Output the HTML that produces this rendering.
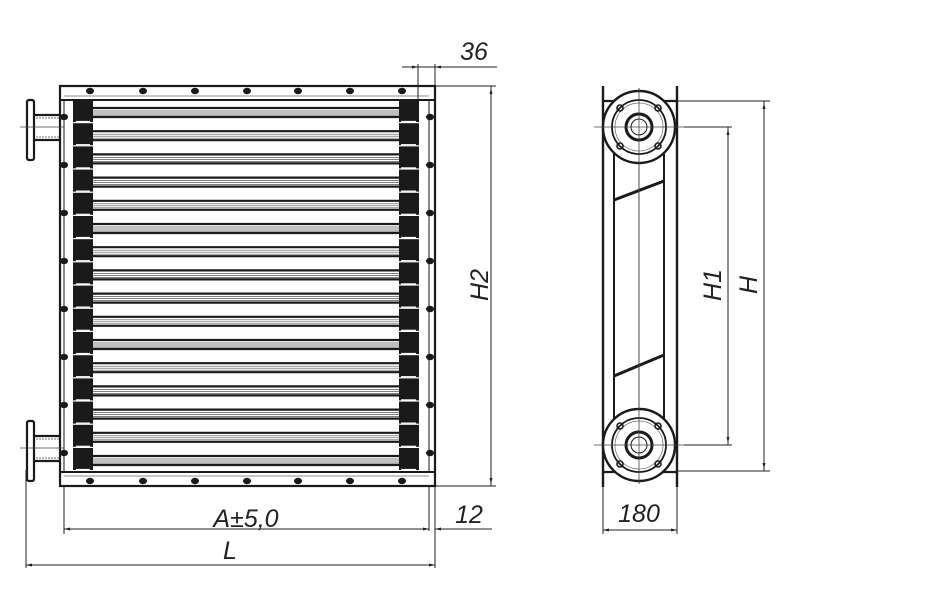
<!DOCTYPE html>
<html><head><meta charset="utf-8"><style>
html,body{margin:0;padding:0;background:#fff;}
svg{display:block}
text{font-family:"Liberation Sans",sans-serif;font-style:italic;fill:#222;}
</style></head><body>
<svg width="940" height="616" viewBox="0 0 940 616" xmlns="http://www.w3.org/2000/svg">
<defs>
<g id="row">
  <rect x="73" y="0" width="20" height="22" fill="#1a1a1a"/>
  <rect x="399" y="0" width="20" height="22" fill="#1a1a1a"/>
  <line x1="93" y1="8" x2="399" y2="8" stroke="#1a1a1a" stroke-width="2.2"/>
  <line x1="93" y1="17" x2="399" y2="17" stroke="#1a1a1a" stroke-width="2.2"/>
  <line x1="93" y1="11" x2="399" y2="11" stroke="#555" stroke-width="0.7"/>
  <line x1="93" y1="13" x2="399" y2="13" stroke="#555" stroke-width="0.7"/>
  <line x1="93" y1="15" x2="399" y2="15" stroke="#555" stroke-width="0.7"/>
  <line x1="76" y1="21.5" x2="90" y2="21.5" stroke="#fff" stroke-width="1.2"/>
  <line x1="401" y1="21.5" x2="416" y2="21.5" stroke="#fff" stroke-width="1.2"/>
</g>
<g id="flange">
  <rect x="27" y="0" width="7" height="60" rx="2" fill="none" stroke="#1a1a1a" stroke-width="2.2"/>
  <line x1="34" y1="15" x2="61" y2="15" stroke="#1a1a1a" stroke-width="2.2"/>
  <line x1="34" y1="40" x2="61" y2="40" stroke="#1a1a1a" stroke-width="2.2"/>
  <line x1="36" y1="18" x2="61" y2="18" stroke="#444" stroke-width="0.8" stroke-dasharray="2,1"/>
  <line x1="36" y1="37" x2="61" y2="37" stroke="#444" stroke-width="0.8" stroke-dasharray="2,1"/>
  <line x1="20" y1="27" x2="64" y2="27" stroke="#444" stroke-width="0.7"/>
</g>
<g id="port">
  <circle cx="0" cy="0" r="36" fill="#fff" stroke="#1a1a1a" stroke-width="2.4"/>
  <circle cx="0" cy="0" r="27" fill="none" stroke="#1a1a1a" stroke-width="1.8"/>
  <circle cx="0" cy="0" r="24" fill="none" stroke="#777" stroke-width="0.8"/>
  <circle cx="0" cy="0" r="13" fill="none" stroke="#1a1a1a" stroke-width="3"/>
  <circle cx="0" cy="0" r="8" fill="none" stroke="#1a1a1a" stroke-width="1"/>
  <circle cx="-19" cy="-19" r="3" fill="none" stroke="#1a1a1a" stroke-width="1.6"/>
  <circle cx="19" cy="-19" r="3" fill="none" stroke="#1a1a1a" stroke-width="1.6"/>
  <circle cx="-19" cy="19" r="3" fill="none" stroke="#1a1a1a" stroke-width="1.6"/>
  <circle cx="19" cy="19" r="3" fill="none" stroke="#1a1a1a" stroke-width="1.6"/>
  <line x1="-45" y1="0" x2="45" y2="0" stroke="#444" stroke-width="0.8"/>
</g>
<g id="dotr"><ellipse cx="0" cy="0" rx="4" ry="3.2" fill="#1a1a1a"/></g>
</defs>

<!-- main frame -->
<g fill="none" stroke="#1a1a1a">
  <rect x="60" y="86" width="375" height="400" stroke-width="2.2"/>
  <line x1="64" y1="100" x2="64" y2="472" stroke-width="1"/>
  <line x1="429" y1="100" x2="429" y2="472" stroke-width="1"/>
  <line x1="60" y1="100" x2="435" y2="100" stroke-width="2"/>
  <line x1="64" y1="96" x2="429" y2="96" stroke-width="0.7" stroke="#666"/>
  <line x1="60" y1="472" x2="435" y2="472" stroke-width="2"/>
  <line x1="64" y1="476" x2="429" y2="476" stroke-width="0.7" stroke="#666"/>
</g>
<!-- rows -->
<use href="#row" y="100"/><use href="#row" y="123.2"/><use href="#row" y="146.4"/><use href="#row" y="169.6"/>
<use href="#row" y="192.8"/><use href="#row" y="216"/><use href="#row" y="239.2"/><use href="#row" y="262.4"/>
<use href="#row" y="285.6"/><use href="#row" y="308.8"/><use href="#row" y="332"/><use href="#row" y="355.2"/>
<use href="#row" y="378.4"/><use href="#row" y="401.6"/><use href="#row" y="424.8"/><use href="#row" y="448"/>
<!-- top/bottom dots -->
<g>
<use href="#dotr" x="90" y="91"/><use href="#dotr" x="143" y="91"/><use href="#dotr" x="195" y="91"/><use href="#dotr" x="247" y="91"/><use href="#dotr" x="298" y="91"/><use href="#dotr" x="350" y="91"/><use href="#dotr" x="402" y="91"/>
<use href="#dotr" x="90" y="481"/><use href="#dotr" x="143" y="481"/><use href="#dotr" x="195" y="481"/><use href="#dotr" x="247" y="481"/><use href="#dotr" x="298" y="481"/><use href="#dotr" x="350" y="481"/><use href="#dotr" x="402" y="481"/>
</g>
<g>
<use href="#dotr" x="64" y="117"/><use href="#dotr" x="64" y="165"/><use href="#dotr" x="64" y="213"/><use href="#dotr" x="64" y="261"/><use href="#dotr" x="64" y="309"/><use href="#dotr" x="64" y="357"/><use href="#dotr" x="64" y="405"/><use href="#dotr" x="64" y="453"/>
<use href="#dotr" x="430" y="117"/><use href="#dotr" x="430" y="165"/><use href="#dotr" x="430" y="213"/><use href="#dotr" x="430" y="261"/><use href="#dotr" x="430" y="309"/><use href="#dotr" x="430" y="357"/><use href="#dotr" x="430" y="405"/><use href="#dotr" x="430" y="453"/>
</g>
<!-- flanges -->
<use href="#flange" y="100"/>
<use href="#flange" y="421"/>

<!-- dimensions main view -->
<g stroke="#222" stroke-width="1" fill="none">
  <line x1="418" y1="64" x2="418" y2="100"/>
  <line x1="435" y1="64" x2="435" y2="86"/>
  <line x1="402" y1="67" x2="497" y2="67"/>
  <line x1="435" y1="86" x2="496" y2="86"/>
  <line x1="435" y1="486" x2="496" y2="486"/>
  <line x1="491" y1="86" x2="491" y2="486"/>
  <line x1="64" y1="486" x2="64" y2="534"/>
  <line x1="429" y1="486" x2="429" y2="531"/>
  <line x1="435" y1="486" x2="435" y2="568"/>
  <line x1="26" y1="470" x2="26" y2="568"/>
  <line x1="64" y1="529" x2="429" y2="529"/>
  <line x1="435" y1="529" x2="492" y2="529"/>
  <line x1="26" y1="565" x2="435" y2="565"/>
</g>
<g fill="#222">
  <path d="M418,67 l-6,-1.5 v3z"/><path d="M435,67 l6,-1.5 v3z"/>
  <path d="M491,88 l-1.5,6 h3z"/><path d="M491,484 l-1.5,-6 h3z"/>
  <path d="M64,529 l6,-1.5 v3z"/><path d="M429,529 l-6,-1.5 v3z"/>
  <path d="M435,529 l6,-1.5 v3z"/>
  <path d="M26,565 l6,-1.5 v3z"/><path d="M435,565 l-6,-1.5 v3z"/>
</g>
<text x="474" y="60" font-size="25" text-anchor="middle">36</text>
<text x="246" y="527" font-size="25" text-anchor="middle">A±5,0</text>
<text x="469" y="523" font-size="25" text-anchor="middle">12</text>
<text x="230" y="559" font-size="25" text-anchor="middle">L</text>
<text x="0" y="0" font-size="25" text-anchor="middle" transform="translate(488,285) rotate(-90)">H2</text>

<!-- side view -->
<g stroke="#1a1a1a" fill="none">
  <line x1="603" y1="86" x2="603" y2="487" stroke-width="2.4"/>
  <line x1="677" y1="86" x2="677" y2="487" stroke-width="2.4"/>
  <line x1="603" y1="101" x2="677" y2="101" stroke-width="2.2"/>
  <line x1="603" y1="472" x2="677" y2="472" stroke-width="2.2"/>
  <line x1="614" y1="130" x2="614" y2="440" stroke-width="2"/>
  <line x1="664" y1="130" x2="664" y2="440" stroke-width="2"/>
  <line x1="614" y1="200" x2="664" y2="181" stroke-width="3"/>
  <line x1="614" y1="376" x2="664" y2="355" stroke-width="3"/>
  <line x1="639" y1="88" x2="639" y2="484" stroke-width="0.8" stroke="#444"/>
</g>
<use href="#port" x="639" y="127"/>
<use href="#port" x="639" y="445"/>
<line x1="639" y1="88" x2="639" y2="484" stroke="#444" stroke-width="0.8"/>
<g stroke="#222" stroke-width="1" fill="none">
  <line x1="677" y1="101" x2="770" y2="101"/>
  <line x1="677" y1="471" x2="770" y2="471"/>
  <line x1="684" y1="127" x2="732" y2="127"/>
  <line x1="684" y1="445" x2="732" y2="445"/>
  <line x1="728" y1="127" x2="728" y2="445"/>
  <line x1="764" y1="101" x2="764" y2="471"/>
  <line x1="603" y1="487" x2="603" y2="534"/>
  <line x1="677" y1="487" x2="677" y2="534"/>
  <line x1="603" y1="530" x2="677" y2="530"/>
</g>
<g fill="#222">
  <path d="M728,129 l-1.5,6 h3z"/><path d="M728,443 l-1.5,-6 h3z"/>
  <path d="M764,103 l-1.5,6 h3z"/><path d="M764,469 l-1.5,-6 h3z"/>
  <path d="M603,530 l6,-1.5 v3z"/><path d="M677,530 l-6,-1.5 v3z"/>
</g>
<text x="639" y="522" font-size="25" text-anchor="middle">180</text>
<text x="0" y="0" font-size="25" text-anchor="middle" transform="translate(721,285) rotate(-90)">H1</text>
<text x="0" y="0" font-size="25" text-anchor="middle" transform="translate(757,285) rotate(-90)">H</text>
</svg>
</body></html>
